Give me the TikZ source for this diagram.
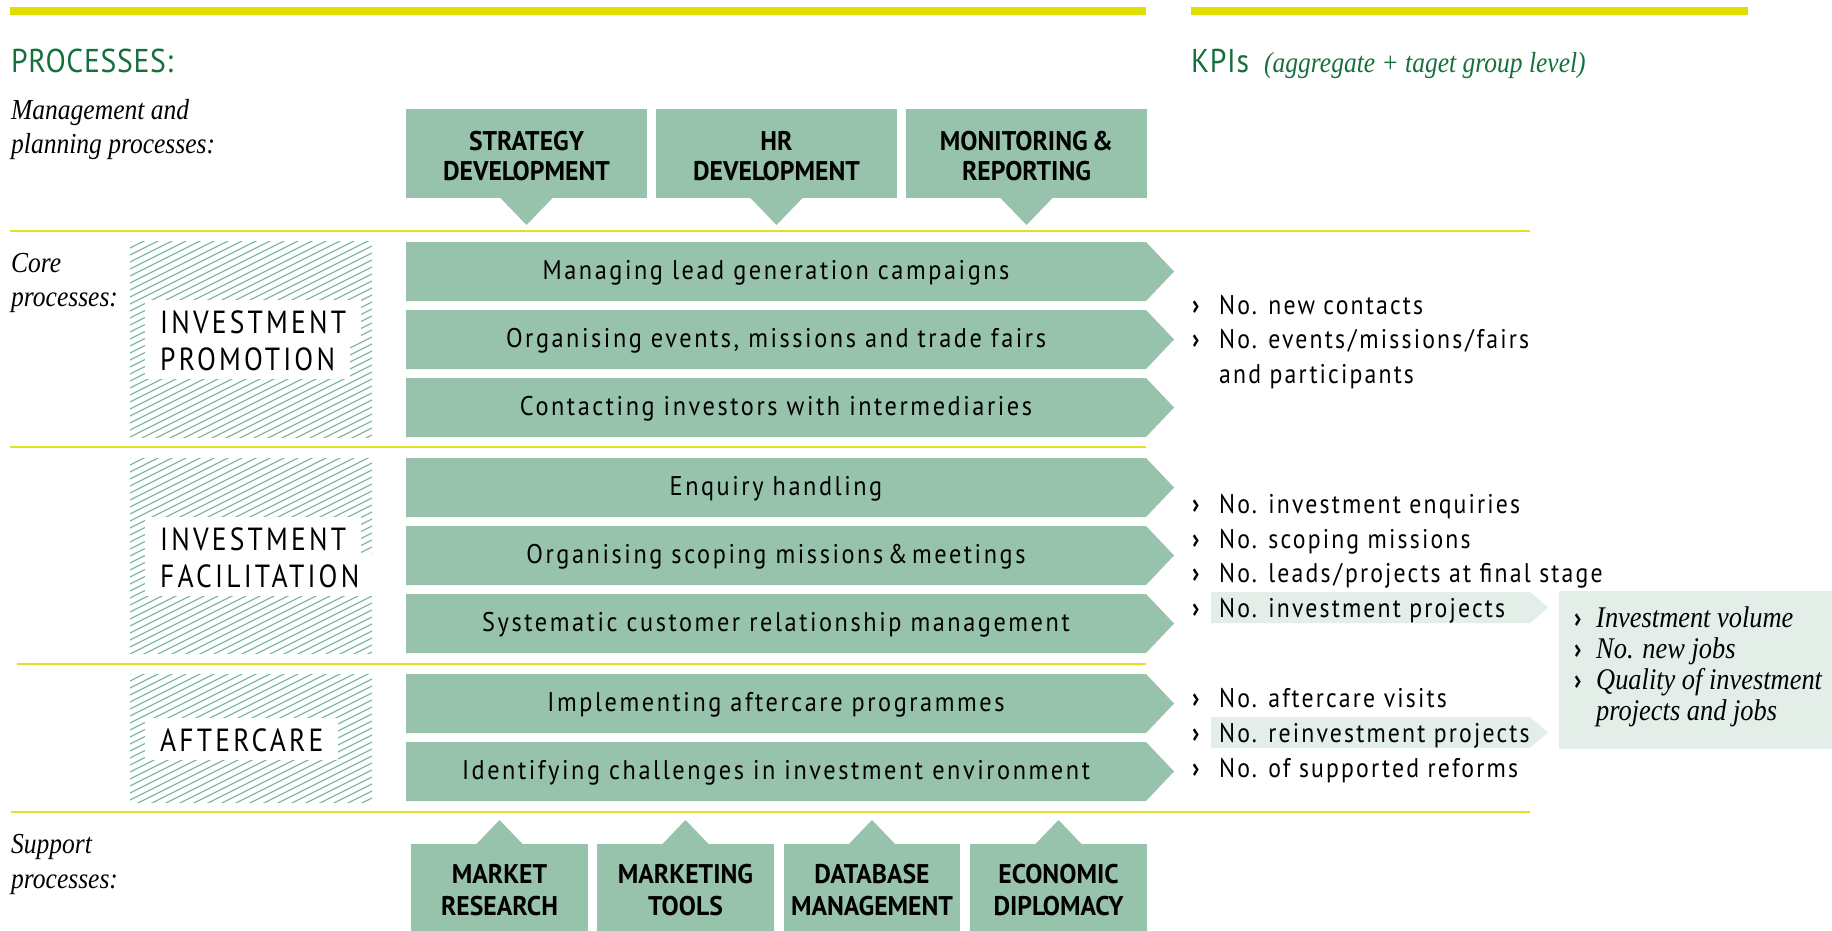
\documentclass[tikz,border=0pt]{standalone}
\usepackage{fontspec}
\setmainfont{Liberation Serif}
\newfontfamily\capsfont{PT Sans}[FakeStretch=0.95]
\newfontfamily\bulfont{PT Sans}[FakeStretch=0.86]
\newfontfamily\litefont{PT Sans}[FakeStretch=0.9,LetterSpace=9.5]
\newfontfamily\kpifont{PT Sans}[FakeStretch=0.88,LetterSpace=8]
\newfontfamily\lblfont{PT Sans}[FakeStretch=0.86,LetterSpace=10]
\newfontfamily\headfont{PT Sans}[FakeStretch=0.9,LetterSpace=2]
\newfontfamily\itfont{Liberation Serif}[FakeStretch=0.88]
\definecolor{boxgreen}{RGB}{151,194,172}
\definecolor{lightgreen}{RGB}{227,238,232}
\definecolor{titlegreen}{RGB}{22,112,62}
\definecolor{baryellow}{RGB}{222,222,0}
\definecolor{lineyellow}{RGB}{225,225,40}
\definecolor{hatchgreen}{RGB}{130,186,160}
\tikzset{
 boxtxt/.style={font=\capsfont\bfseries\fontsize{27}{30}\selectfont, anchor=base, inner sep=0pt},
 arrowtxt/.style={font=\litefont\fontsize{27}{30}\selectfont, anchor=base, inner sep=0pt},
 kpitxt/.style={font=\kpifont\fontsize{27}{30}\selectfont, anchor=base west, inner sep=0pt},
 kpibul/.style={font=\bulfont\bfseries\fontsize{28}{30}\selectfont, anchor=base west, inner sep=0pt},
 ittxt/.style={font=\itfont\itshape\fontsize{29}{30}\selectfont, anchor=base west, inner sep=0pt},
 kpiit/.style={font=\itfont\itshape\fontsize{30}{30}\selectfont, anchor=base west, inner sep=0pt},
 subit/.style={font=\itfont\itshape\fontsize{29}{30}\selectfont, text=titlegreen, anchor=base west, inner sep=0pt},
 labeltxt/.style={font=\lblfont\fontsize{32}{36}\selectfont, anchor=base west, fill=white, inner xsep=15pt, inner ysep=4pt, text height=29pt, text depth=5pt},
 headtxt/.style={font=\headfont\fontsize{33}{36}\selectfont, text=titlegreen, anchor=base west, inner sep=0pt},
 hatchline/.style={draw=hatchgreen, line width=1.3pt},
 sepline/.style={draw=lineyellow, line width=2pt},
}
\newcommand{\slsh}{\kern3pt/\kern3pt}
\newcommand{\mgmtbox}[5]{%
 \fill[boxgreen] (#2,109) rectangle (#3,198);
 \fill[boxgreen] ({(#2+#3)/2-27},197) -- ({(#2+#3)/2+27},197) -- ({(#2+#3)/2},225) -- cycle;
 \node[boxtxt] (#1a) at ({(#2+#3)/2},150) {#4};
 \node[boxtxt] (#1b) at ({(#2+#3)/2},180) {#5};
}
\newcommand{\supbox}[5]{%
 \fill[boxgreen] (#2,844) rectangle (#3,931);
 \fill[boxgreen] ({(#2+#3)/2-24},845) -- ({(#2+#3)/2+24},845) -- ({(#2+#3)/2},820) -- cycle;
 \node[boxtxt] (#1a) at ({(#2+#3)/2},883) {#4};
 \node[boxtxt] (#1b) at ({(#2+#3)/2},915) {#5};
}
\newcommand{\procarrow}[3]{%
 \fill[boxgreen] (406,#2) -- (1146,#2) -- (1174,#2+29.5) -- (1146,#2+59) -- (406,#2+59) -- cycle;
 \node[arrowtxt] (#1) at (776,#2+37.5) {#3};
}
\newcommand{\hatchbox}[2]{%
 \begin{scope}
 \clip (130,#1) rectangle (372,#2);
 \foreach \c in {0,7,...,336} \draw[hatchline] (130,#1+\c) -- (372,#1+\c-121);
 \end{scope}
}
\begin{document}
\begin{tikzpicture}[x=1pt,y=-1pt]
\useasboundingbox (0,0) rectangle (1832,930);
\fill[white] (0,0) rectangle (1832,930);
% top bars
\fill[baryellow] (10,7) rectangle (1146,15);
\fill[baryellow] (1191,7) rectangle (1748,15);
% headings
\node[headtxt] (proc) at (11,72) {PROCESSES:};
\node[headtxt] (kpi) at (1191,72) {KPIs};
\node[subit] (kpisub) at (1264,72) {(aggregate + taget group level)};
% left labels
\node[ittxt] (mg1) at (11,119) {Management and};
\node[ittxt] (mg2) at (11,153) {planning processes:};
\node[ittxt] (co1) at (11,272) {Core};
\node[ittxt] (co2) at (11,306) {processes:};
\node[ittxt] (su1) at (11,853) {Support};
\node[ittxt] (su2) at (11,888) {processes:};
% separators
\draw[sepline] (10,231) -- (1530,231);
\draw[sepline] (10,447) -- (1146,447);
\draw[sepline] (17,664) -- (1146,664);
\draw[sepline] (11,812) -- (1530,812);
% management boxes
\mgmtbox{sd}{406}{647}{STRATEGY}{DEVELOPMENT}
\mgmtbox{hr}{656}{897}{HR}{DEVELOPMENT}
\mgmtbox{mr}{906}{1147}{MONITORING\,\&}{REPORTING}
% hatched boxes
\hatchbox{241}{437}
\hatchbox{458}{653}
\hatchbox{674}{802}
\node[labeltxt] (ip1) at (145,333) {INVESTMENT};
\node[labeltxt] (ip2) at (145,370) {PROMOTION};
\node[labeltxt] (if1) at (145,550) {INVESTMENT};
\node[labeltxt] (if2) at (145,587) {FACILITATION};
\node[labeltxt] (ac) at (145,751) {AFTERCARE};
% process arrows
\procarrow{p1}{242}{Managing lead generation campaigns}
\procarrow{p2}{310}{Organising events, missions and trade fairs}
\procarrow{p3}{378}{Contacting investors with intermediaries}
\procarrow{p4}{458}{Enquiry handling}
\procarrow{p5}{526}{Organising scoping missions\,\&\,meetings}
\procarrow{p6}{594}{Systematic customer relationship management}
\procarrow{p7}{674}{Implementing aftercare programmes}
\procarrow{p8}{742}{Identifying challenges in investment environment}
% support boxes
\supbox{mk}{411}{588}{MARKET}{RESEARCH}
\supbox{mt}{597}{774}{MARKETING}{TOOLS}
\supbox{db}{784}{960}{DATABASE}{MANAGEMENT}
\supbox{ed}{970}{1147}{ECONOMIC}{DIPLOMACY}
% KPI highlights
\fill[lightgreen] (1211,592) -- (1530,592) -- (1548,607.5) -- (1530,623) -- (1211,623) -- cycle;
\fill[lightgreen] (1211,717) -- (1530,717) -- (1548,732.5) -- (1530,748) -- (1211,748) -- cycle;
\fill[lightgreen] (1559,591) rectangle (1832,749);
% KPI lists
\node[kpibul] (b1) at (1192,314) {›};
\node[kpitxt] (k1) at (1219,314) {No. new contacts};
\node[kpibul] (b2) at (1192,348) {›};
\node[kpitxt] (k2) at (1219,348) {No. events\slsh missions\slsh fairs};
\node[kpitxt] (k2b) at (1219,383) {and participants};
\node[kpibul] (b3) at (1192,513) {›};
\node[kpitxt] (k3) at (1219,513) {No. investment enquiries};
\node[kpibul] (b4) at (1192,548) {›};
\node[kpitxt] (k4) at (1219,548) {No. scoping missions};
\node[kpibul] (b5) at (1192,582) {›};
\node[kpitxt] (k5) at (1219,582) {No. leads\slsh projects at final stage};
\node[kpibul] (b6) at (1192,617) {›};
\node[kpitxt] (k6) at (1219,617) {No. investment projects};
\node[kpibul] (b7) at (1192,707) {›};
\node[kpitxt] (k7) at (1219,707) {No. aftercare visits};
\node[kpibul] (b8) at (1192,742) {›};
\node[kpitxt] (k8) at (1219,742) {No. reinvestment projects};
\node[kpibul] (b9) at (1192,777) {›};
\node[kpitxt] (k9) at (1219,777) {No. of supported reforms};
% impact KPIs
\node[kpibul] (c1) at (1574,627) {›};
\node[kpiit] (i1) at (1596,627) {Investment volume};
\node[kpibul] (c2) at (1574,658) {›};
\node[kpiit] (i2) at (1596,658) {No. new jobs};
\node[kpibul] (c3) at (1574,689) {›};
\node[kpiit] (i3) at (1596,689) {Quality of investment};
\node[kpiit] (i4) at (1596,720) {projects and jobs};
\end{tikzpicture}
\end{document}
